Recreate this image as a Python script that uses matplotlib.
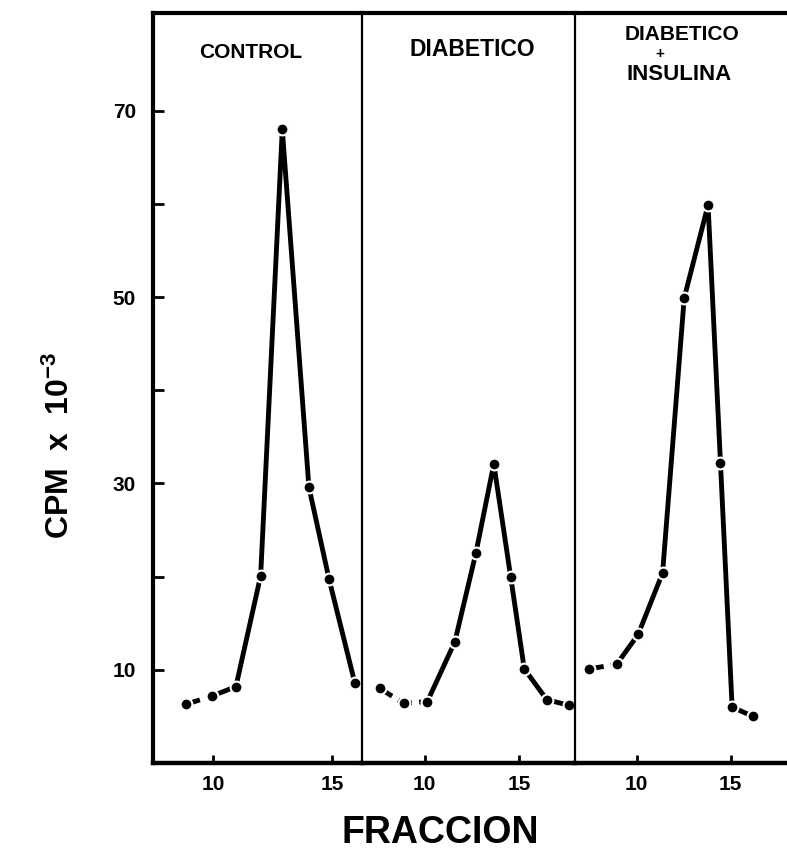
import matplotlib
matplotlib.use("Agg")
import matplotlib.pyplot as plt

plt.rcParams['font.family'] = ['Liberation Sans', 'DejaVu Sans']
plt.rcParams['mathtext.fontset'] = 'custom'
plt.rcParams['mathtext.rm'] = 'Liberation Sans:bold'
plt.rcParams['mathtext.bf'] = 'Liberation Sans:bold'
plt.rcParams['mathtext.it'] = 'Liberation Sans:bold'

# ---- data (fraction number, CPM x 10^-3) ----
control_x = [8.85, 9.96, 10.95, 11.99, 12.9, 14.02, 14.87, 15.95]
control_y = [6.3, 7.2, 8.2, 20.1, 68.0, 29.6, 19.7, 8.6]

diab_x = [7.62, 8.9, 10.14, 11.59, 12.7, 13.65, 14.54, 15.26, 16.45, 17.6]
diab_y = [8.0, 6.4, 6.6, 13.0, 22.5, 32.1, 20.0, 10.1, 6.8, 6.2]

ins_x = [7.48, 8.94, 10.08, 11.38, 12.53, 13.8, 14.46, 15.08, 16.2]
ins_y = [10.1, 10.6, 13.8, 20.4, 49.9, 59.9, 32.2, 6.0, 5.0]

titles = ["CONTROL", "DIABETICO", "DIABETICO", "+", "INSULINA"]
xticks = [10, 15]
yticks_major = [10, 30, 50, 70]
yticks_minor = [20, 40, 60]

W, H = 787, 858
fig = plt.figure(figsize=(W / 100, H / 100), dpi=100)

def px(l, r):
    return l / W, (r - l) / W

bottom = 1 - 763 / H
height = (763 - 13) / H

def ty(ypx):
    return 1 - (ypx - 13) / (763 - 13)

panels = [
    (152.7, 361.7, (7.45, 16.24), control_x, control_y, 1),
    (361.7, 575.0, (6.67, 17.94), diab_x, diab_y, 2),
    (575.0, 787.0, (6.72, 18.0), ins_x, ins_y, 1),
]

axes = []
for i, (l, r, xl, xs, ys, ndash) in enumerate(panels):
    left, width = px(l, r)
    ax = fig.add_axes([left, bottom, width, height])
    axes.append(ax)
    ax.set_xlim(*xl)
    ax.set_ylim(0, 80.5)
    ax.plot(xs[:ndash + 1], ys[:ndash + 1], color='black', lw=3.5,
            ls=(0, (3, 1.5)), solid_capstyle='butt', zorder=2)
    ax.plot(xs[ndash:], ys[ndash:], color='black', lw=3.5, zorder=2)
    ax.plot(xs, ys, ls='none', marker='o', ms=8.5, mfc='black',
            mec='white', mew=1.5, zorder=3)
    ax.set_xticks(xticks)
    ax.set_xticklabels([str(t) for t in xticks], fontsize=15, fontweight='bold')
    ax.tick_params(axis='x', direction='in', length=6, width=2, pad=9)
    for sp in ax.spines.values():
        sp.set_color('black')
    ax.spines['top'].set_linewidth(3)
    ax.spines['bottom'].set_linewidth(3.2)
    ax.spines['right'].set_visible(False)
    if i == 0:
        ax.spines['left'].set_linewidth(3)
        ax.set_yticks(yticks_major)
        ax.set_yticks(yticks_minor, minor=True)
        ax.set_yticklabels([str(t) for t in yticks_major], fontsize=15,
                           fontweight='bold')
        ax.tick_params(axis='y', which='both', direction='in', length=8,
                       width=2, pad=12)
    else:
        ax.spines['left'].set_linewidth(1.6)
        ax.set_yticks([])

ax1, ax2, ax3 = axes
ax1.text(0.47, ty(52), titles[0], transform=ax1.transAxes, ha='center',
         va='center', fontsize=15, fontweight='bold')
ax2.text(0.518, ty(49), titles[1], transform=ax2.transAxes, ha='center',
         va='center', fontsize=16.5, fontweight='bold')
ax3.text(0.505, ty(34), titles[2], transform=ax3.transAxes, ha='center',
         va='center', fontsize=15, fontweight='bold')
ax3.text(0.40, ty(54), titles[3], transform=ax3.transAxes, ha='center',
         va='center', fontsize=11, fontweight='bold')
ax3.text(0.49, ty(74), titles[4], transform=ax3.transAxes, ha='center',
         va='center', fontsize=16, fontweight='bold')

fig.text(60 / W, 1 - 445 / H, r"CPM  x  10$^{-3}$", rotation=90,
         ha='center', va='center', fontsize=23, fontweight='bold')
fig.text(440 / W, 1 - 833 / H, "FRACCION", ha='center', va='center',
         fontsize=27, fontweight='bold')

fig.savefig("out.png", dpi=100, facecolor='white')
